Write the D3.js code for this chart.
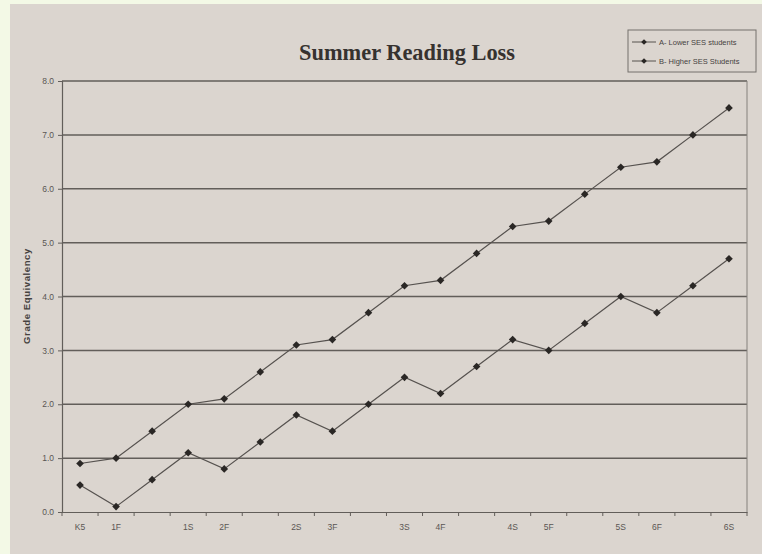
<!DOCTYPE html>
<html>
<head>
<meta charset="utf-8">
<script src="https://cdn.jsdelivr.net/npm/d3@7"></script>
<style>
body{margin:0;background:#f3f9e6;}
</style>
</head>
<body>
<div id="chart"></div>
<script>
// data
var categories=["K5","1F","","1S","2F","","2S","3F","","3S","4F","","4S","5F","","5S","6F","","6S"];
var lowerSES=[0.5,0.1,0.6,1.1,0.8,1.3,1.8,1.5,2.0,2.5,2.2,2.7,3.2,3.0,3.5,4.0,3.7,4.2,4.7];
var higherSES=[0.9,1.0,1.5,2.0,2.1,2.6,3.1,3.2,3.7,4.2,4.3,4.8,5.3,5.4,5.9,6.4,6.5,7.0,7.5];
var yTicks=[0,1,2,3,4,5,6,7,8];
var seriesNames=["A- Lower SES students","B- Higher SES Students"];

var width=762,height=554;
var plotLeft=62,plotRight=747,plotTop=81,plotBottom=512;

var svg=d3.select("#chart").append("svg")
	.attr("width",width)
	.attr("height",height)
	.style("display","block");

// paper
svg.append("rect")
	.attr("x",10).attr("y",4)
	.attr("width",width-10).attr("height",height-4)
	.style("fill","#dbd5cf");

var x=d3.scaleBand()
	.domain(d3.range(categories.length))
	.range([plotLeft,plotRight]);
var y=d3.scaleLinear()
	.domain([0,8])
	.range([plotBottom,plotTop]);

// gridlines
svg.append("g").selectAll("line")
	.data(yTicks.filter(function(d){return d>0;}))
	.enter().append("line")
	.attr("x1",plotLeft).attr("x2",plotRight)
	.attr("y1",function(d){return y(d);})
	.attr("y2",function(d){return y(d);})
	.style("stroke","#625e5a")
	.style("stroke-width",1.5);

// right border of plot
svg.append("line")
	.attr("x1",plotRight).attr("x2",plotRight)
	.attr("y1",plotTop).attr("y2",plotBottom)
	.style("stroke","#85817c").style("stroke-width",1);

// y axis
var yAxis=svg.append("g")
	.attr("transform","translate("+plotLeft+",0)")
	.call(d3.axisLeft(y).tickValues(yTicks).tickSize(4).tickFormat(d3.format(".1f")));
yAxis.select(".domain").style("stroke","#625e5a").style("stroke-width",1.2);
yAxis.selectAll("line").style("stroke","#625e5a");
yAxis.selectAll("text")
	.style("font-family","Liberation Sans, sans-serif")
	.style("font-size","8.5px")
	.style("fill","#5a5653")
	.attr("x",-8);

// x axis
var xAxis=svg.append("g")
	.attr("transform","translate(0,"+plotBottom+")")
	.call(d3.axisBottom(x).tickSize(0).tickFormat(function(i){return categories[i];}));
xAxis.select(".domain").style("stroke","#625e5a").style("stroke-width",1.2);
xAxis.selectAll("text")
	.attr("y",12)
	.style("font-family","Liberation Sans, sans-serif")
	.style("font-size","8.5px")
	.style("fill","#5a5653");
// tick marks between categories
svg.append("g").selectAll("line")
	.data(d3.range(categories.length+1))
	.enter().append("line")
	.attr("x1",function(i){return plotLeft+i*x.step();})
	.attr("x2",function(i){return plotLeft+i*x.step();})
	.attr("y1",plotBottom).attr("y2",plotBottom+4)
	.style("stroke","#625e5a");

// series
var line=d3.line()
	.x(function(d,i){return x(i)+x.bandwidth()/2;})
	.y(function(d){return y(d);});

[higherSES,lowerSES].forEach(function(s){
	svg.append("path")
		.datum(s)
		.attr("d",line)
		.style("fill","none")
		.style("stroke","#56524f")
		.style("stroke-width",1.2);
	svg.append("g").selectAll("rect")
		.data(s)
		.enter().append("rect")
		.attr("x",function(d,i){return x(i)+x.bandwidth()/2-2.7;})
		.attr("y",function(d){return y(d)-2.7;})
		.attr("width",5.4).attr("height",5.4)
		.attr("transform",function(d,i){return "rotate(45,"+(x(i)+x.bandwidth()/2)+","+y(d)+")";})
		.style("fill","#2a2725");
});

// title
svg.append("text")
	.attr("x",407)
	.attr("y",60)
	.attr("text-anchor","middle")
	.text("Summer Reading Loss")
	.style("font-family","Liberation Serif, serif")
	.style("font-weight","bold")
	.style("font-size","24px")
	.style("fill","#36322f")
	.attr("textLength",216)
	.attr("lengthAdjust","spacingAndGlyphs");

// y axis title
svg.append("text")
	.attr("transform","translate(30,296) rotate(-90)")
	.attr("text-anchor","middle")
	.text("Grade Equivalency")
	.style("font-family","Liberation Sans, sans-serif")
	.style("font-weight","bold")
	.style("font-size","9.5px")
	.style("letter-spacing","0.6px")
	.style("fill","#46423f");

// legend
var legend=svg.append("g");
legend.append("rect")
	.attr("x",628).attr("y",30)
	.attr("width",128).attr("height",42)
	.style("fill","none")
	.style("stroke","#75716d");
seriesNames.forEach(function(n,i){
	var ly=42+i*19;
	legend.append("line")
		.attr("x1",632).attr("x2",656)
		.attr("y1",ly).attr("y2",ly)
		.style("stroke","#56524f");
	legend.append("rect")
		.attr("x",642).attr("y",ly-2)
		.attr("width",4).attr("height",4)
		.attr("transform","rotate(45,644,"+ly+")")
		.style("fill","#2a2725");
	legend.append("text")
		.attr("x",659).attr("y",ly+3)
		.text(n)
		.style("font-family","Liberation Sans Narrow, Liberation Sans, sans-serif")
		.style("font-size","7.5px")
		.style("fill","#46423f");
});
</script>
</body>
</html>
